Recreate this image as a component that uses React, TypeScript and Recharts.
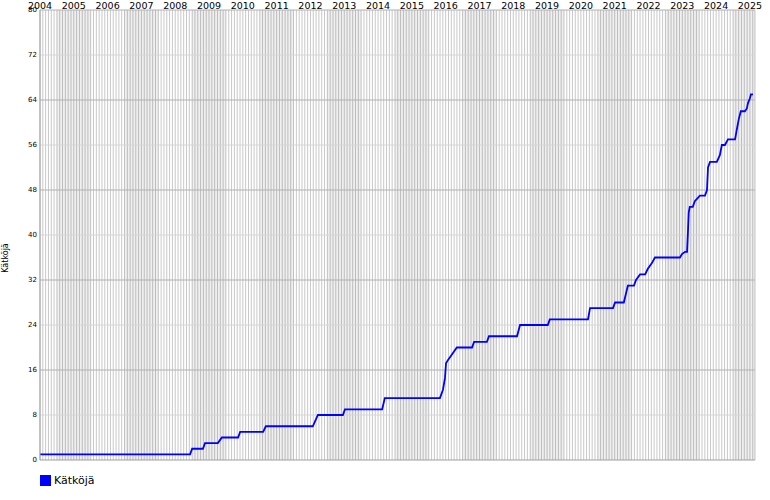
import { LineChart, Line, XAxis, YAxis, CartesianGrid, ReferenceArea, ReferenceLine } from 'recharts'

// cumulative count (x in decimal years)
const dates = [
  2004.0, 2008.44, 2008.5, 2008.82, 2008.88, 2009.26, 2009.38, 2009.86, 2009.92, 2010.6,
  2010.68, 2012.07, 2012.22, 2012.96, 2013.02, 2014.12, 2014.2, 2015.83, 2015.92, 2015.98,
  2016.01, 2016.07, 2016.19, 2016.33, 2016.78, 2016.84, 2017.22, 2017.28, 2018.11, 2018.2,
  2019.02, 2019.08, 2020.21, 2020.27, 2020.95, 2021.01, 2021.27, 2021.39, 2021.57, 2021.63,
  2021.75, 2021.9, 2021.98, 2022.1, 2022.19, 2022.93, 2022.99, 2023.08, 2023.14, 2023.17,
  2023.19, 2023.22, 2023.31, 2023.37, 2023.52, 2023.67, 2023.73, 2023.76, 2023.82, 2024.02,
  2024.11, 2024.17, 2024.26, 2024.35, 2024.56, 2024.61, 2024.67, 2024.73, 2024.85, 2024.91,
  2024.94, 2025.0, 2025.03, 2025.09,
]
const counts = [
  1, 1, 2, 2, 3, 3, 4, 4, 5, 5,
  6, 6, 8, 8, 9, 9, 11, 11, 12.5, 14.6,
  17.2, 17.8, 18.8, 20, 20, 21, 21, 22, 22, 24,
  24, 25, 25, 27, 27, 28, 28, 31, 31, 32,
  33, 33, 34, 35, 36, 36, 36.6, 37, 37, 41,
  44, 45, 45, 46, 47, 47, 48, 52, 53, 53,
  54.2, 56, 56, 57, 57, 58.7, 60.6, 62, 62, 62.5,
  63.4, 64.3, 65, 65,
]

const yearLabels = Array.from({ length: 22 }, (_, i) => 2004 + i) // 2004..2025
const yTicks = [0, 8, 16, 24, 32, 40, 48, 56, 64, 72, 80]
const bandStarts = [2004.5, 2006.5, 2008.5, 2010.5, 2012.5, 2014.5, 2016.5, 2018.5, 2020.5, 2022.5, 2024.5]

const data = dates.map((d, i) => ({ year: d, count: counts[i] }))
// one grid line per month
const monthTicks = Array.from({ length: 254 }, (_, i) => 2004 + i / 12)

const fmtYear = (v: number) => {
  const r = Math.round(v)
  return Math.abs(v - r) < 1e-6 && yearLabels.includes(r) ? String(r) : ''
}

export default function App() {
  return (
    <div style={{ position: 'relative', width: 770, height: 500, background: '#fff', fontFamily: 'DejaVu Sans' }}>
      <style>{'body{margin:0}'}</style>
      <LineChart width={770} height={500} data={data} margin={{ top: 0, right: 15, bottom: 40, left: 0 }}>
        <CartesianGrid horizontal={false} stroke="#c8c8c8" strokeOpacity={1} />
        {bandStarts.map((s) => (
          <ReferenceArea key={s} x1={s} x2={s + 1} ifOverflow="hidden" fill="#000" fillOpacity={0.06} strokeOpacity={0} />
        ))}
        {yTicks.slice(1).map((v) => (
          <ReferenceLine key={v} y={v} stroke={v % 16 === 0 ? '#b0b0b0' : '#d6d6d6'} strokeWidth={1} />
        ))}
        <XAxis
          dataKey="year"
          type="number"
          orientation="top"
          domain={[2004, 2025.15]}
          ticks={monthTicks}
          interval={0}
          tickFormatter={fmtYear}
          height={10}
          tickSize={0}
          tickMargin={1}
          axisLine={false}
          tickLine={false}
          tick={{ fill: '#000', fontSize: 9.5, fontFamily: 'DejaVu Sans' }}
        />
        <YAxis
          type="number"
          domain={[0, 80]}
          ticks={yTicks}
          width={40}
          tickSize={0}
          tickMargin={3}
          tickLine={false}
          axisLine={{ stroke: '#a0a0a0' }}
          tick={{ fill: '#000', fontSize: 7, fontFamily: 'DejaVu Sans' }}
        />
        <ReferenceLine y={0} stroke="#a0a0a0" strokeWidth={1} />
        <Line
          type="linear"
          dataKey="count"
          stroke="#0000ff"
          strokeWidth={1.8}
          dot={false}
          activeDot={false}
          isAnimationActive={false}
        />
      </LineChart>

      <div
        style={{
          position: 'absolute',
          left: 5,
          top: 258,
          transform: 'translate(-50%, -50%) rotate(-90deg)',
          fontSize: 8,
          color: '#000',
          whiteSpace: 'nowrap',
        }}
      >
        Kätköjä
      </div>

      <div style={{ position: 'absolute', left: 40, top: 475, display: 'flex', alignItems: 'center', gap: 3 }}>
        <span style={{ display: 'inline-block', width: 11, height: 11, background: '#0000ff' }} />
        <span style={{ fontSize: 11, color: '#000', lineHeight: '11px' }}>Kätköjä</span>
      </div>
    </div>
  )
}
